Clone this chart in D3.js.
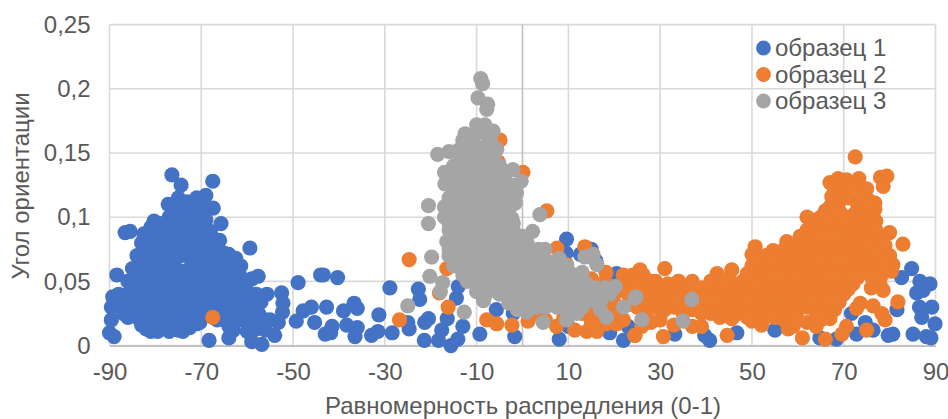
<!DOCTYPE html>
<html><head><meta charset="utf-8"><style>html,body{margin:0;padding:0;background:#fff}svg{display:block}text{font-family:"Liberation Sans",Arial,sans-serif;fill:#595959}</style>
<script src="https://cdn.jsdelivr.net/npm/d3@7"></script></head><body><svg id="c" width="948" height="419"></svg>
<script>
const xTicks=[-90,-70,-50,-30,-10,10,30,50,70,90];
const yTicks=[0,0.05,0.1,0.15,0.2,0.25];
const yLabels=["0","0,05","0,1","0,15","0,2","0,25"];
const seriesNames=["образец 1","образец 2","образец 3"];
const seriesColors=["#4472c4","#ed7d31","#a5a5a5"];
const xTitle="Равномерность распредления (0-1)";
const yTitle="Угол ориентации";
const sample1=[[-76.4,.133],[-74.4,.125],[-67.5,.128],[-69,.117],[-71,.115],[-77.2,.11],[-67.4,.107],[-65.7,.095],[-80.3,.097],[-86.6,.088],[-85.5,.089],[-59.4,.076],[-61.4,.062],[-88.4,.055],[-57.6,.054],[-59,.052],[-52.5,.041],[-55.7,.04],[-52.2,.033],[-52.3,.026],[-53.2,.018],[-54,.008],[-56.8,.001],[-59,.003],[-64,.006],[-68.3,.004],[-89,.007],[-90,.01],[-89.6,.02],[-89.6,.03],[-89.3,.038],[-48.9,.049],[-49.3,.019],[-46,.03],[-47.8,.027],[-45.3,.018],[-44,.055],[-43.4,.055],[-40.3,.053],[-42.7,.03],[-36.7,.033],[-39,.027],[-36,.029],[-41.5,.015],[-43,.009],[-41.8,.01],[-36.5,.007],[-32.9,.008],[-31.5,.011],[-31.3,.024],[-36,.014],[-38.3,.016],[-28.9,.045],[-28.4,.01],[-24.7,.013],[-25,.018],[-22.7,.044],[-22.4,.036],[-21.3,.018],[-21.4,.004],[-20.5,.021],[-18.3,.004],[-17.6,.012],[-15.6,0],[-14.1,.005],[-13,.015],[-16.4,.021],[-14.4,.037],[-14,.046],[-9.3,.009],[-5.7,.028],[-1.7,.007],[-2,.025],[8,.005],[9.6,.083],[9.5,.072],[12.6,.071],[15,.075],[16,.066],[20.5,.056],[19,.01],[22,.004],[23,.015],[10,.015],[84.8,.06],[82.6,.053],[86.6,.05],[88.8,.048],[87.3,.043],[85.9,.041],[89.2,.03],[86.5,.03],[89.9,.017],[87,.022],[88,.007],[85.1,.009],[89,.006],[80.7,.009],[79.7,.008],[76.4,.012],[74.7,.018],[72.8,.009],[71.7,.025],[81.6,.028],[55,.012],[46.7,.01],[40.8,.004],[39.7,.008],[33.2,.009],[68.4,.005],[64.8,.006],
[-87,.025],[-85.5,.03],[-84,.022],[-83,.016],[-82,.013],[-81,.02],[-80,.012],[-79,.028],[-78,.015],[-77,.011],[-76,.022],[-75,.012],[-74,.011],[-73,.03],[-72,.02],[-71,.017],[-70,.024],[-69,.03],[-67,.03],[-66,.026],[-65,.02],[-64,.028],[-63,.035],[-62,.025],[-61,.02],[-60,.03],[-59,.018],[-58,.013],[-60,.011],[-57.5,.025],[-56,.02],[-55,.02],
[-88,.04],[-86,.04],[-85,.045],[-84,.038],[-83,.042],[-82,.05],[-81,.035],[-80,.045],[-79,.04],[-78,.05],[-77,.036],[-76,.045],[-75,.04],[-74,.05],[-73,.038],[-72,.045],[-71,.04],[-70,.05],[-69,.04],[-68,.045],[-67,.05],[-66,.04],[-65,.048],[-64,.04],[-63,.05],[-62,.045],[-61,.038],[-60,.042],[-59,.036],[-58,.03],
[-84.5,.055],[-83.5,.06],[-82.5,.066],[-81.5,.058],[-80.5,.065],[-79.5,.06],[-78.5,.068],[-77.5,.056],[-76.5,.064],[-75.5,.06],[-74.5,.07],[-73.5,.058],[-72.5,.06],[-71,.062],[-70,.056],[-69,.063],[-68,.06],[-67,.067],[-66,.058],[-65,.064],[-64.5,.06],[-63.5,.056],[-62.5,.058],[-61.5,.054],
[-83,.08],[-82,.075],[-81,.085],[-80,.078],[-79,.088],[-78,.082],[-77,.09],[-76,.078],[-75,.085],[-74,.09],[-73,.08],[-72,.085],[-71,.09],[-70,.08],[-69,.085],[-68,.078],[-67,.08],[-66.5,.072],[-65,.072],[-64,.071],[-66,.082],[-68,.072],
[-78,.095],[-77,.1],[-76,.095],[-75,.105],[-74,.11],[-73,.1],[-72,.105],[-71,.098],[-70,.103],[-69,.098],[-68.5,.09],[-75,.115],[-73,.112],[-70,.11],
[-87.5,.032],[-85,.034],[-83,.03],[-81,.028],[-78.5,.033],[-76,.03],[-74,.028],[-71.5,.031],[-68,.034],[-65.5,.033],[-62,.03],[-60.5,.035],[-86,.022],[-82.5,.022],[-79.5,.018],[-75.5,.018],[-72.5,.014],[-66.5,.02],[-63.5,.018],[-60,.021],[-57,.034],
[-85,.051],[-83,.05],[-81,.052],[-79,.05],[-77,.047],[-75,.05],[-73,.048],[-71,.05],[-69,.052],[-67,.042],[-65,.055],[-63,.044],[-61,.047],[-60,.05],
[-83.5,.07],[-81,.071],[-79,.074],[-77,.072],[-75.5,.076],[-73,.07],[-71.5,.072],[-69.5,.072],[-67.5,.07],[-65.5,.068],[-63.5,.064],[-72,.055],[-70,.065],
[-81,.092],[-79,.095],[-76,.088],[-74.5,.098],[-72.5,.092],[-70,.092],[-68,.088],[-72.5,.11],[-76,.105],
[-84,.03],[-86,.031],[-83,.025],[-80,.03],[-78,.025],[-77,.02],[-74,.02],[-73,.02],[-75,.03],[-72,.03],[-70,.033],[-68,.026],[-66,.033],[-63,.025],[-62,.035],[-60,.025],[-58,.04],[-59,.025],[-57,.015],[-56,.012],[-63,.012],[-64,.015],[-82,.04],[-80,.055],[-78,.06],[-84,.07],[-84,.047],[-86,.05],[-62.5,.068],[-64,.066],[-82,.085],[-80,.09],[-78,.09],[-81,.011],[-79.5,.011],[-76.5,.013],[-74.5,.013],[-70.3,.018],[-85,.06],[-82.5,.087]];
const sample2=[[-67.5,.022],[72.5,.147],[79.4,.132],[78,.131],[78.6,.124],[67,.127],[68.8,.13],[70.6,.129],[73.3,.13],[75,.122],[67.4,.116],[76.8,.111],[76.8,.106],[62,.1],[64,.098],[80,.088],[82.9,.079],[57.6,.081],[50.7,.077],[50,.071],[54.6,.074],[80,.07],[80.7,.063],[80.4,.058],[78.6,.043],[81.8,.034],[73.6,.033],[72.8,.029],[76.4,.031],[78.3,.025],[79,.02],[75,.012],[70.6,.015],[69.6,.009],[66,.005],[61,.006],[67,.021],[57.9,.013],[52.1,.016],[50,.019],[44.6,.008],[45.6,.021],[42.4,.056],[45.6,.059],[38.3,.044],[31,.06],[26.3,.055],[30.7,.007],[24.5,.008],[39,.015],[29,.05],[31.7,.048],
[-24.7,.067],[-16.5,.06],[-18.1,.041],[-16.2,.03],[-26.8,.02],[-7.8,.02],[-5.6,.017],[-2.3,.016],[5.3,.105],[.1,.135],[-5.3,.143],[-4.9,.16],[1.2,.019],[7.5,.076],[13.6,.077],[9.6,.063],[7.4,.015],[11.4,.012],[14,.011],[16.2,.011],[15,.018],[18.2,.017],[20.5,.017],[24.5,.008],[18.2,.057],[23.4,.054],[25.6,.059],
[68,.12],[70,.122],[72,.125],[74,.118],[69,.112],[71,.115],[73,.11],[75,.108],
[65,.1],[66,.105],[67,.108],[68,.1],[69.5,.102],[71,.1],[72.5,.103],[74,.1],[75.5,.098],[77,.097],
[60.5,.085],[62,.09],[63.5,.088],[65,.09],[66.5,.092],[68,.09],[70,.09],[72,.092],[74,.09],[76,.087],[78,.085],
[59,.07],[60.5,.075],[62,.078],[64,.08],[66,.082],[68,.08],[70,.08],[72,.082],[74,.08],[76,.078],[78,.076],
[56,.07],[58,.068],[60,.065],[62,.068],[64,.07],[66,.07],[68,.07],[70,.07],[72,.07],[74,.07],[76,.068],[78,.066],
[50,.062],[52,.06],[54,.065],[56,.06],[58,.058],[60,.055],[62,.058],[64,.06],[66,.06],[68,.06],[70,.06],[72,.06],[74,.058],
[48,.05],[50,.052],[52,.05],[54,.052],[56,.05],[58,.048],[60,.05],[62,.05],[64,.05],[66,.05],[68,.05],[70,.05],[72,.048],[77,.05],[78,.047],
[44,.045],[46,.048],[48,.04],[50,.042],[52,.04],[54,.038],[56,.04],[58,.04],[60,.038],[62,.04],[64,.04],[66,.04],[68,.04],[70,.04],
[40,.032],[42,.035],[44,.03],[46,.033],[48,.028],[50,.03],[54,.028],[56,.03],[58,.025],[60,.028],[62,.03],[64,.025],[66,.03],[68,.028],
[53,.022],[59,.015],[62,.018],[64,.015],
[10,.04],[12,.05],[14,.035],[16,.045],[18,.05],[20,.04],[22,.05],[24,.045],[26,.04],[28,.05],[30,.045],[32,.04],[34,.05],[36,.04],[38,.035],[40,.04],[42,.045],
[11,.03],[13,.025],[15,.03],[17,.035],[19,.03],[21,.025],[23,.032],[25,.03],[27,.025],[29,.03],[31,.028],[33,.03],[35,.025],[37,.028],[39,.025],[41,.025],[43,.022],
[6,.035],[8,.03],[9,.022],[3,.025],[5,.02],[18,.02],[22,.02],[26,.015],[28,.018],[30,.02],[33,.016],[37,.015],[22,.055],[24,.055],[34,.05],
[69,.105],[73.5,.115],[75.5,.113],[66,.096],[70.5,.095],[74,.095],[77,.09],[63,.094],
[61,.082],[63,.084],[65,.085],[67,.086],[69,.085],[71,.085],[73,.086],[75,.083],[77,.082],[79,.078],
[57,.075],[59,.076],[61,.07],[63,.074],[65,.075],[67,.076],[69,.075],[71,.076],[73,.075],[75,.074],[77,.072],[79,.068],
[51,.066],[53,.07],[55,.066],[57,.064],[59,.062],[61,.062],[63,.064],[65,.065],[67,.065],[69,.065],[71,.065],[73,.064],[75,.063],[77,.06],[79,.06],
[49,.056],[51,.055],[53,.056],[55,.056],[57,.054],[59,.053],[61,.055],[63,.055],[65,.055],[67,.055],[69,.055],[71,.055],[73,.053],[76,.054],[78,.053],
[45,.052],[47,.045],[49,.045],[51,.046],[53,.045],[55,.045],[57,.044],[59,.044],[61,.045],[63,.045],[65,.045],[67,.045],[69,.045],[71,.044],[76,.045],
[43,.04],[45,.038],[47,.036],[49,.035],[51,.034],[53,.033],[55,.034],[57,.035],[59,.033],[61,.034],[63,.035],[65,.035],[67,.035],[69,.034],
[13,.045],[15,.052],[17,.044],[19,.045],[21,.047],[23,.04],[25,.05],[27,.045],[29,.04],[31,.037],[33,.045],[35,.043],[37,.05],[39,.045],[41,.05],[44,.05],
[12,.036],[14,.028],[16,.024],[20,.033],[24,.036],[26,.032],[28,.035],[30,.035],[32,.033],[34,.035],[36,.032],[38,.028],[41,.034],[43,.03],[45,.03],[47,.025],[49,.022],[51,.026],[55,.022],[57,.02],[60,.02],[65,.02]];
const sample3=[[-9.1,.208],[-8.7,.204],[-9.7,.193],[-7.6,.188],[-7.8,.184],[-8.2,.172],[-10,.172],[-6.4,.167],[-12.5,.165],[-13,.16],[-18.5,.149],[-16,.151],[-5.6,.153],[-14,.152],[-2.1,.137],[-.3,.128],[-17,.135],[-16.9,.126],[-1.3,.119],[-1.6,.111],[-20.5,.109],[-20.5,.095],[-2.3,.099],[3.8,.102],[2.2,.089],[4.9,.075],[-16.5,.081],[-19.8,.069],[-20.2,.054],[-17.4,.049],[-17.9,.042],[-25,.031],[-12.7,.026],[-8.5,.035],[-9.5,.045],[4.5,.018],[.9,.026],[-1.1,.028],[9.6,.02],[7.5,.03],[11.8,.025],[18.3,.022],[22,.03],[24.5,.037],[20.2,.046],[15.4,.071],[13.6,.069],[16.2,.063],[9.6,.062],[6.5,.06],[24.7,.038],[36.9,.036],[26,.02],[35,.019],
[-10,.165],[-9,.17],[-8,.165],[-7,.16],[-11,.16],[-14,.15],[-12,.15],[-10,.155],[-8,.155],[-6,.15],[-15,.14],[-13,.145],[-11,.14],[-9,.145],[-7,.14],[-5,.14],[-4,.135],
[-15.5,.13],[-14,.13],[-12,.135],[-10,.13],[-8,.13],[-6,.13],[-4,.13],[-2.5,.125],[-15,.12],[-13,.12],[-11,.125],[-9,.12],[-7,.12],[-5,.12],[-3,.12],
[-16,.105],[-14,.11],[-12,.11],[-10,.115],[-8,.11],[-6,.11],[-4,.11],[-3,.105],[-17,.1],[-15,.1],[-13,.1],[-11,.1],[-9,.1],[-7,.1],[-5,.1],[-3,.095],
[-16,.09],[-14,.09],[-12,.09],[-10,.09],[-8,.09],[-6,.09],[-4,.09],[-2,.09],[0,.085],[-15,.08],[-13,.08],[-11,.08],[-9,.08],[-7,.08],[-5,.08],[-3,.08],[-1,.078],[1,.08],
[-16,.07],[-14,.07],[-12,.07],[-10,.07],[-8,.07],[-6,.07],[-4,.07],[-2,.07],[0,.07],[2,.072],[3.5,.075],
[-15,.062],[-13,.06],[-11,.06],[-9,.06],[-7,.06],[-5,.06],[-3,.06],[-1,.06],[1,.06],[3,.062],[5,.06],[7,.06],[9,.062],
[-12,.05],[-10,.05],[-8,.05],[-6,.05],[-4,.05],[-2,.05],[0,.05],[2,.05],[4,.05],[6,.052],[8,.055],[10,.058],[12,.05],[14,.048],[16,.045],[18,.045],
[-10,.042],[-8,.04],[-5,.04],[-3,.04],[-1,.04],[1,.04],[3,.04],[5,.04],[7,.04],[9,.04],[11,.04],[13,.04],[15,.035],[17,.035],[19,.04],
[-3,.033],[-1,.032],[1,.032],[3,.03],[5,.03],[9,.03],[11,.032],[13,.03],[17,.028],
[-13,.155],[-11,.15],[-9,.15],[-7,.15],[-14,.135],[-12,.14],[-10,.14],[-8,.135],[-6,.135],[-4.5,.125],
[-15,.125],[-13,.125],[-10.5,.12],[-8,.125],[-6,.125],[-3.5,.115],[-16,.115],[-14,.115],[-12,.115],[-10,.108],[-8,.115],[-6,.115],[-4.5,.115],
[-17,.108],[-15,.107],[-13,.105],[-11,.108],[-9,.105],[-7,.105],[-5,.105],[-16,.095],[-14,.095],[-12,.095],[-10,.095],[-8,.095],[-6,.095],[-4,.098],[-2,.095],
[-15,.085],[-13,.085],[-11,.085],[-9,.085],[-7,.085],[-5,.085],[-3,.085],[-1,.085],[-16,.075],[-14,.075],[-12,.075],[-10,.075],[-8,.075],[-6,.075],[-4,.075],[-2,.075],[0,.075],[2,.065],
[-14,.065],[-12,.065],[-10,.065],[-8,.065],[-6,.065],[-4,.065],[-2,.065],[0,.065],[4,.068],[6,.065],[8,.068],
[-13,.055],[-11,.055],[-9,.055],[-7,.055],[-5,.055],[-3,.055],[-1,.055],[1,.055],[3,.055],[5,.055],[7,.052],[9,.052],[11,.055],[13,.057],[-7,.045],[-5,.045],[-3,.045],[-1,.045],[1,.045],[3,.045],[5,.045],[7,.045],[9,.048],[11,.047],[13,.047],[15,.043],[17,.042],
[-2,.037],[0,.037],[2,.035],[4,.035],[6,.037],[8,.035],[10,.035],[12,.035],[14,.035]];
const allSeries=[sample1,sample2,sample3];

const svg=d3.select("#c");
const x=d3.scaleLinear().domain([-90,90]).range([109.5,935.5]);
const y=d3.scaleLinear().domain([0,0.25]).range([345.6,24.6]);
const r=7.6;
const grid=svg.append("g").attr("stroke","#d9d9d9").attr("stroke-width",1.6);
grid.selectAll("line.v").data(xTicks).join("line").attr("class","v").attr("x1",d=>x(d)).attr("x2",d=>x(d)).attr("y1",y(0.25)).attr("y2",y(0));
grid.selectAll("line.h").data(yTicks).join("line").attr("class","h").attr("x1",x(-90)).attr("x2",x(90)).attr("y1",d=>y(d)).attr("y2",d=>y(d));
svg.append("line").attr("x1",x(0)).attr("x2",x(0)).attr("y1",y(0.25)).attr("y2",y(0)).attr("stroke","#bfbfbf").attr("stroke-width",1.6);
const ax=svg.append("g").attr("transform",`translate(0,${y(0)})`).call(d3.axisBottom(x).tickValues(xTicks).tickSize(0).tickPadding(17).tickFormat(d=>String(d)));
ax.select(".domain").attr("stroke","#bfbfbf").attr("stroke-width",1.6);
ax.selectAll("text").attr("font-size",24).attr("font-family",'"Liberation Sans"').attr("fill","#595959");
const ay=svg.append("g").attr("transform",`translate(${x(-90)},0)`).call(d3.axisLeft(y).tickValues(yTicks).tickSize(0).tickPadding(19).tickFormat((d,i)=>yLabels[i]));
ay.select(".domain").remove();
ay.selectAll("text").attr("font-size",24).attr("font-family",'"Liberation Sans"').attr("fill","#595959");
allSeries.forEach((s,i)=>{
 svg.append("g").selectAll("circle").data(s).join("circle").attr("cx",d=>x(d[0])).attr("cy",d=>y(d[1])).attr("r",r).attr("fill",seriesColors[i]);
});
const lg=svg.append("g");
seriesNames.forEach((n,i)=>{
 const yy=48+i*26.5;
 lg.append("circle").attr("cx",763.5).attr("cy",yy).attr("r",7.4).attr("fill",seriesColors[i]);
 lg.append("text").attr("x",775).attr("y",yy+8).attr("font-size",24).text(n);
});
svg.append("text").attr("x",523).attr("y",413.5).attr("text-anchor","middle").attr("font-size",24).text(xTitle);
svg.append("text").attr("transform","translate(29,186) rotate(-90)").attr("text-anchor","middle").attr("font-size",24).text(yTitle);
</script></body></html>
